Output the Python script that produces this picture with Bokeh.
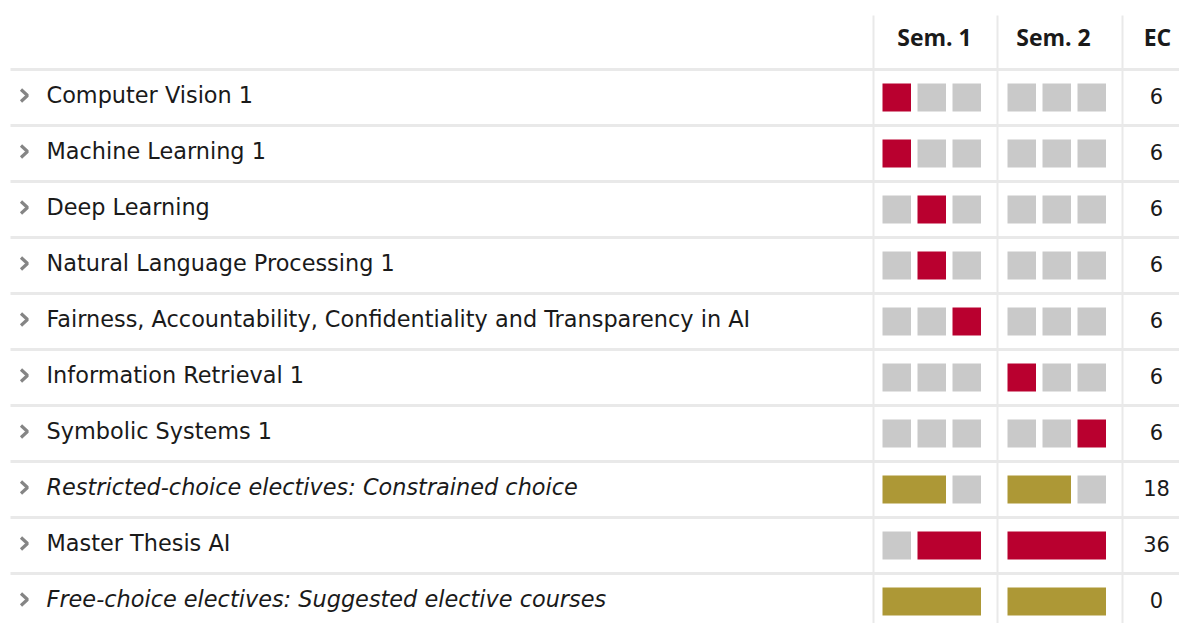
from bokeh.plotting import figure
from bokeh.models import Range1d, ColumnDataSource
from bokeh.embed import file_html
from bokeh.resources import INLINE
from bokeh.core.properties import value

courses = [
    "Computer Vision 1",
    "Machine Learning 1",
    "Deep Learning",
    "Natural Language Processing 1",
    "Fairness, Accountability, Confidentiality and Transparency in AI",
    "Information Retrieval 1",
    "Symbolic Systems 1",
    "Restricted-choice electives: Constrained choice",
    "Master Thesis AI",
    "Free-choice electives: Suggested elective courses",
]
is_group = [False, False, False, False, False, False, False, True, False, True]
# period codes per semester: C = compulsory (red), E = elective (gold), - = not scheduled
sem1 = ["C--", "C--", "-C-", "-C-", "--C", "---", "---", "EE-", "-CC", "EEE"]
sem2 = ["---", "---", "---", "---", "---", "C--", "--C", "EE-", "CCC", "EEE"]
ec = ["6", "6", "6", "6", "6", "6", "6", "18", "36", "0"]
headers = ["Sem. 1", "Sem. 2", "EC"]

RED = "#b9002f"
GOLD = "#ad9836"
GRAY = "#c9c9c9"
LINE = "#e9e9e9"
TEXT = "#1a1a1a"
FONT = "DejaVu Sans"
HFONT = "Open Sans"

W, H = 1179, 623
p = figure(width=W, height=H, x_range=Range1d(0, W), y_range=Range1d(H, 0),
           output_backend="svg", toolbar_location=None, min_border=0)
p.axis.visible = False
p.grid.visible = False
p.outline_line_color = None
p.background_fill_color = "white"

row0, row_h = 97, 56
ys = [row0 + i * row_h for i in range(len(courses))]

# grid lines
sep_y = [row0 - row_h / 2 + k * row_h for k in range(len(courses))]
p.segment(x0=[10] * len(sep_y), x1=[W] * len(sep_y), y0=sep_y, y1=sep_y,
          line_color=LINE, line_width=3)
col_x = [873, 997, 1122]
p.segment(x0=col_x, x1=col_x, y0=[15] * 3, y1=[H] * 3, line_color=LINE, line_width=2)

# period blocks
base = {0: 882, 1: 1007}
pitch, sq = 35, 28.5
colors = {"C": RED, "E": GOLD, "-": GRAY}
L, R, T, B, Cc = [], [], [], [], []
for i, y in enumerate(ys):
    for s, codes in enumerate([sem1[i], sem2[i]]):
        j = 0
        while j < len(codes):
            c = codes[j]
            k = j
            if c != "-":
                while k + 1 < len(codes) and codes[k + 1] == c:
                    k += 1
            L.append(base[s] + j * pitch)
            R.append(base[s] + k * pitch + sq)
            T.append(y - 14)
            B.append(y + 14)
            Cc.append(colors[c])
            j = k + 1
p.quad(left=L, right=R, top=T, bottom=B, fill_color=Cc, line_color=None)

# chevrons
cx = []
cy = []
for y in ys:
    cx.append([20.5, 27, 20.5])
    cy.append([y - 8, y - 2, y + 4])
p.multi_line(xs=cx, ys=cy, line_color="#858585", line_width=3.2)

# course names
for flag, style in [(False, "normal"), (True, "italic")]:
    idx = [i for i in range(len(courses)) if is_group[i] == flag]
    src = ColumnDataSource(dict(x=[46] * len(idx), y=[ys[i] - 3 for i in idx],
                                t=[courses[i] for i in idx]))
    p.text(x="x", y="y", text="t", source=src, text_font=value(FONT),
           text_font_size="22.4px", text_font_style=style, text_color=TEXT,
           text_baseline="middle", text_align="left")

# EC values
p.text(x=[1156] * len(ys), y=[y - 2 for y in ys], text=ec, text_font=value(FONT),
       text_font_size="21px", text_color=TEXT, text_baseline="middle", text_align="center")

# header
p.text(x=[934, 1053, 1157], y=[36] * 3, text=headers, text_font=value(HFONT),
       text_font_size="23px", text_font_style="bold", text_color=TEXT,
       text_baseline="middle", text_align="center")

open("out.html", "w").write(file_html(p, INLINE))
